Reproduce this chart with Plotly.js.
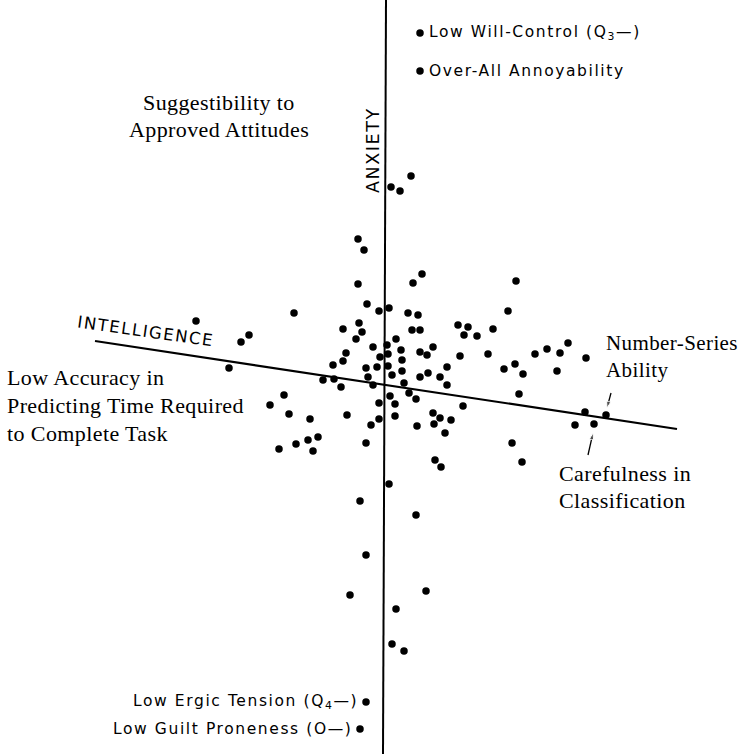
<!DOCTYPE html>
<html>
<head>
<meta charset="utf-8">
<script src="https://cdn.plot.ly/plotly-3.0.1.min.js"></script>
<style>
html,body{margin:0;padding:0;background:#fff;}
#chart{width:745px;height:754px;}
/* tracking of the old typesetting; attribute selectors so Plotly's measuring clone gets it too */
text[style*="Liberation Serif"]{letter-spacing:0.4px;}
text[style*="DejaVu Sans"]{letter-spacing:1.6px;}
</style>
</head>
<body>
<div id="chart"></div>
<script>
// Factor-loading positions (plot units = picture grid)
const dotX = [420,420,391,400,411,358,364,358,413,422,516,508,367,379,389,408,418,294,196,249,241,343,359,362,412,420,458,468,464,477,493,356,396,373,387,401,420,433,346,343,380,388,427,460,488,402,333,366,377,388,447,504,515,523,535,547,560,568,586,557,229,402,392,420,428,440,368,323,334,341,373,404,447,409,390,416,519,379,395,463,585,606,575,594,284,270,289,310,347,379,395,433,440,434,451,371,417,445,512,522,435,441,318,308,296,313,279,366,389,360,416,366,350,426,396,392,404,366,360];
const dotY = [33,71,187,191,176,239,250,284,283,274,281,311,304,311,308,313,315,313,321,335,342,329,323,332,330,330,325,327,335,336,329,339,339,347,345,350,352,347,353,361,357,354,355,356,354,360,365,368,367,366,367,369,364,374,354,349,353,343,358,371,368,371,375,377,373,377,377,380,379,387,385,383,385,393,396,399,394,403,404,406,412,415,425,424,395,405,414,419,415,419,416,413,418,424,420,425,426,433,443,462,460,467,437,440,444,451,449,443,484,501,515,555,595,591,609,644,651,702,729];

// Factor axes
const anxietyX = [386, 383];
const anxietyY = [0, 754];
const intelX = [95, 677];
const intelY = [341, 429];

// Pointer arrows (tail -> head)
const arrowNumX = [611, 607];
const arrowNumY = [393, 408];
const arrowCarX = [588, 593];
const arrowCarY = [455, 433];

const labelsSerif = [
  {t:'Suggestibility to', x:219, y:102, a:'center', s:22},
  {t:'Approved Attitudes', x:219, y:129, a:'center', s:22},
  {t:'Low Accuracy in', x:5, y:377, a:'left', s:22},
  {t:'Predicting Time Required', x:5, y:405, a:'left', s:22},
  {t:'to Complete Task', x:5, y:433, a:'left', s:22},
  {t:'Number-Series', x:604, y:343, a:'left', s:21},
  {t:'Ability', x:604, y:370, a:'left', s:21},
  {t:'Carefulness in', x:557, y:473, a:'left', s:22},
  {t:'Classification', x:557, y:500, a:'left', s:22}
];
const labelsSans = [
  {t:'Low Will-Control (Q<sub>3</sub>—)', x:427, y:33, a:'left'},
  {t:'Over-All Annoyability', x:427, y:71, a:'left'},
  {t:'Low Ergic Tension (Q<sub>4</sub>—)', x:360, y:702, a:'right'},
  {t:'Low Guilt Proneness (O—)', x:354, y:729, a:'right'}
];

const traces = [
  {x: anxietyX, y: anxietyY, mode:'lines', line:{color:'#000', width:2}, hoverinfo:'skip'},
  {x: intelX, y: intelY, mode:'lines', line:{color:'#000', width:2.2}, hoverinfo:'skip'},
  {x: dotX, y: dotY, mode:'markers', marker:{color:'#000', size:7.5}, hoverinfo:'skip'},
  {x: arrowNumX, y: arrowNumY, mode:'lines+markers', line:{color:'#000', width:1.3},
   marker:{symbol:['circle','arrow'], size:[0,7], color:'#000', angleref:'previous'}, hoverinfo:'skip'},
  {x: arrowCarX, y: arrowCarY, mode:'lines+markers', line:{color:'#000', width:1.3},
   marker:{symbol:['circle','arrow'], size:[0,7], color:'#000', angleref:'previous'}, hoverinfo:'skip'}
];

const ann = [];
labelsSerif.forEach(l => ann.push({x:l.x, y:l.y, xref:'x', yref:'y', text:l.t, showarrow:false,
  xanchor:l.a, yanchor:'middle', font:{family:'Liberation Serif', size:l.s, color:'#000'}}));
labelsSans.forEach(l => ann.push({x:l.x, y:l.y, xref:'x', yref:'y', text:l.t, showarrow:false,
  xanchor:l.a, yanchor:'middle', font:{family:'DejaVu Sans', size:15.5, color:'#000'}}));
ann.push({x:146, y:331, xref:'x', yref:'y', text:'INTELLIGENCE', showarrow:false,
  textangle:8, font:{family:'DejaVu Sans', size:16.5, color:'#000'}});
ann.push({x:373, y:150, xref:'x', yref:'y', text:'ANXIETY', showarrow:false,
  textangle:-90, font:{family:'DejaVu Sans', size:17.5, color:'#000'}});

const layout = {
  width:745, height:754, margin:{l:0,r:0,t:0,b:0},
  paper_bgcolor:'#fff', plot_bgcolor:'#fff', showlegend:false,
  xaxis:{range:[0,745], visible:false, fixedrange:true},
  yaxis:{range:[754,0], visible:false, fixedrange:true},
  annotations: ann
};
Plotly.newPlot('chart', traces, layout, {staticPlot:true});
</script>
</body>
</html>
